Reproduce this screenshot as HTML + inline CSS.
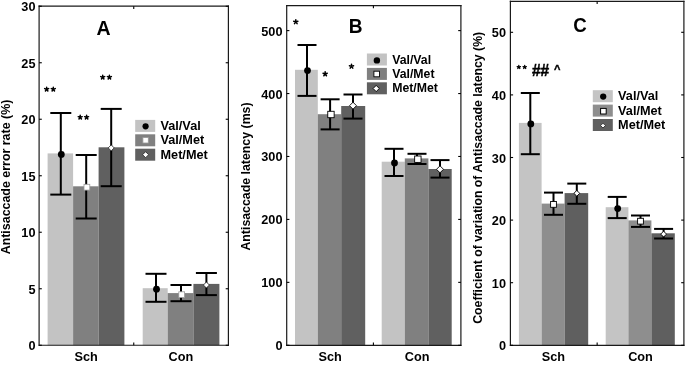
<!DOCTYPE html>
<html><head><meta charset="utf-8"><style>
html,body{margin:0;padding:0;background:#fff;width:685px;height:365px;overflow:hidden}
svg{display:block;will-change:transform}
text{font-family:"Liberation Sans", sans-serif;fill:#000}
</style></head><body>
<svg width="685" height="365" viewBox="0 0 685 365">
<rect width="685" height="365" fill="#fff"/>
<rect x="47.60" y="153.40" width="25.50" height="191.85" fill="#c3c3c3"/>
<rect x="73.10" y="186.30" width="25.50" height="158.95" fill="#808080"/>
<rect x="98.60" y="147.30" width="25.80" height="197.95" fill="#606060"/>
<rect x="142.70" y="288.20" width="25.00" height="57.05" fill="#c3c3c3"/>
<rect x="167.70" y="293.10" width="25.70" height="52.15" fill="#808080"/>
<rect x="193.40" y="283.90" width="26.00" height="61.35" fill="#606060"/>
<line x1="60.80" y1="113.00" x2="60.80" y2="194.60" stroke="#000" stroke-width="2"/>
<line x1="50.30" y1="113.00" x2="71.30" y2="113.00" stroke="#000" stroke-width="2"/>
<line x1="50.30" y1="194.60" x2="71.30" y2="194.60" stroke="#000" stroke-width="2"/>
<circle cx="61.30" cy="154.40" r="3.40" fill="#000"/>
<line x1="86.20" y1="155.00" x2="86.20" y2="218.50" stroke="#000" stroke-width="2"/>
<line x1="75.70" y1="155.00" x2="96.70" y2="155.00" stroke="#000" stroke-width="2"/>
<line x1="75.70" y1="218.50" x2="96.70" y2="218.50" stroke="#000" stroke-width="2"/>
<rect x="84.00" y="184.30" width="5.80" height="5.80" fill="#fff" stroke="#999" stroke-width="0.8"/>
<line x1="111.20" y1="108.90" x2="111.20" y2="186.20" stroke="#000" stroke-width="2"/>
<line x1="100.70" y1="108.90" x2="121.70" y2="108.90" stroke="#000" stroke-width="2"/>
<line x1="100.70" y1="186.20" x2="121.70" y2="186.20" stroke="#000" stroke-width="2"/>
<path d="M111.20 144.90L114.20 147.90L111.20 150.90L108.20 147.90Z" fill="#fff" stroke="#222" stroke-width="0.8"/>
<line x1="156.00" y1="273.80" x2="156.00" y2="301.80" stroke="#000" stroke-width="2"/>
<line x1="145.50" y1="273.80" x2="166.50" y2="273.80" stroke="#000" stroke-width="2"/>
<line x1="145.50" y1="301.80" x2="166.50" y2="301.80" stroke="#000" stroke-width="2"/>
<circle cx="156.50" cy="289.20" r="3.40" fill="#000"/>
<line x1="181.00" y1="285.00" x2="181.00" y2="301.20" stroke="#000" stroke-width="2"/>
<line x1="170.50" y1="285.00" x2="191.50" y2="285.00" stroke="#000" stroke-width="2"/>
<line x1="170.50" y1="301.20" x2="191.50" y2="301.20" stroke="#000" stroke-width="2"/>
<rect x="178.80" y="291.80" width="5.80" height="5.80" fill="#fff" stroke="#999" stroke-width="0.8"/>
<line x1="206.40" y1="273.00" x2="206.40" y2="295.10" stroke="#000" stroke-width="2"/>
<line x1="195.90" y1="273.00" x2="216.90" y2="273.00" stroke="#000" stroke-width="2"/>
<line x1="195.90" y1="295.10" x2="216.90" y2="295.10" stroke="#000" stroke-width="2"/>
<path d="M206.40 282.00L209.40 285.00L206.40 288.00L203.40 285.00Z" fill="#fff" stroke="#222" stroke-width="0.8"/>
<line x1="39.10" y1="5.60" x2="39.10" y2="345.85" stroke="#1a1a1a" stroke-width="1.2"/>
<line x1="228.40" y1="5.60" x2="228.40" y2="345.85" stroke="#1a1a1a" stroke-width="1.2"/>
<line x1="38.50" y1="6.20" x2="229.00" y2="6.20" stroke="#1a1a1a" stroke-width="1.2"/>
<line x1="38.50" y1="345.25" x2="229.00" y2="345.25" stroke="#1a1a1a" stroke-width="1.2"/>
<line x1="39.10" y1="345.25" x2="41.80" y2="345.25" stroke="#000" stroke-width="1.1"/>
<line x1="228.40" y1="345.25" x2="225.70" y2="345.25" stroke="#000" stroke-width="1.1"/>
<text x="0" y="0" transform="translate(35.50 350.25) scale(1.05 1.0)" font-size="12.1" font-weight="bold" text-anchor="end" >0</text>
<line x1="39.10" y1="288.75" x2="41.80" y2="288.75" stroke="#000" stroke-width="1.1"/>
<line x1="228.40" y1="288.75" x2="225.70" y2="288.75" stroke="#000" stroke-width="1.1"/>
<text x="0" y="0" transform="translate(35.50 293.75) scale(1.05 1.0)" font-size="12.1" font-weight="bold" text-anchor="end" >5</text>
<line x1="39.10" y1="232.25" x2="41.80" y2="232.25" stroke="#000" stroke-width="1.1"/>
<line x1="228.40" y1="232.25" x2="225.70" y2="232.25" stroke="#000" stroke-width="1.1"/>
<text x="0" y="0" transform="translate(35.50 237.25) scale(1.05 1.0)" font-size="12.1" font-weight="bold" text-anchor="end" >10</text>
<line x1="39.10" y1="175.75" x2="41.80" y2="175.75" stroke="#000" stroke-width="1.1"/>
<line x1="228.40" y1="175.75" x2="225.70" y2="175.75" stroke="#000" stroke-width="1.1"/>
<text x="0" y="0" transform="translate(35.50 180.75) scale(1.05 1.0)" font-size="12.1" font-weight="bold" text-anchor="end" >15</text>
<line x1="39.10" y1="119.25" x2="41.80" y2="119.25" stroke="#000" stroke-width="1.1"/>
<line x1="228.40" y1="119.25" x2="225.70" y2="119.25" stroke="#000" stroke-width="1.1"/>
<text x="0" y="0" transform="translate(35.50 124.25) scale(1.05 1.0)" font-size="12.1" font-weight="bold" text-anchor="end" >20</text>
<line x1="39.10" y1="62.75" x2="41.80" y2="62.75" stroke="#000" stroke-width="1.1"/>
<line x1="228.40" y1="62.75" x2="225.70" y2="62.75" stroke="#000" stroke-width="1.1"/>
<text x="0" y="0" transform="translate(35.50 67.75) scale(1.05 1.0)" font-size="12.1" font-weight="bold" text-anchor="end" >25</text>
<line x1="39.10" y1="6.25" x2="41.80" y2="6.25" stroke="#000" stroke-width="1.1"/>
<line x1="228.40" y1="6.25" x2="225.70" y2="6.25" stroke="#000" stroke-width="1.1"/>
<text x="0" y="0" transform="translate(35.50 11.25) scale(1.05 1.0)" font-size="12.1" font-weight="bold" text-anchor="end" >30</text>
<line x1="133.75" y1="6.20" x2="133.75" y2="8.90" stroke="#000" stroke-width="1.1"/>
<line x1="133.75" y1="345.25" x2="133.75" y2="342.55" stroke="#000" stroke-width="1.1"/>
<text x="0" y="0" transform="translate(86.10 360.50) scale(1.05 1.0)" font-size="12.1" font-weight="bold" text-anchor="middle" >Sch</text>
<text x="0" y="0" transform="translate(180.90 360.50) scale(1.05 1.0)" font-size="12.1" font-weight="bold" text-anchor="middle" >Con</text>
<text x="0" y="0" transform="translate(103.60 34.80) scale(0.975 1.0)" font-size="20" font-weight="bold" text-anchor="middle" >A</text>
<text x="10.00" y="177.00" font-size="12.43" font-weight="bold" text-anchor="middle" transform="rotate(-90 10.00 177.00)">Antisaccade error rate (%)</text>
<rect x="135.20" y="119.90" width="20.00" height="12.00" fill="#c3c3c3"/>
<circle cx="145.60" cy="126.30" r="3.10" fill="#000"/>
<text x="0" y="0" transform="translate(160.50 130.00) scale(1.05 1.0)" font-size="12.1" font-weight="bold" text-anchor="start" >Val/Val</text>
<rect x="135.20" y="134.30" width="20.00" height="12.00" fill="#808080"/>
<rect x="142.90" y="137.60" width="5.40" height="5.40" fill="#fff" stroke="#999" stroke-width="0.8"/>
<text x="0" y="0" transform="translate(160.50 144.40) scale(1.05 1.0)" font-size="12.1" font-weight="bold" text-anchor="start" >Val/Met</text>
<rect x="135.20" y="148.70" width="20.00" height="12.00" fill="#606060"/>
<path d="M145.60 151.70L148.60 154.70L145.60 157.70L142.60 154.70Z" fill="#fff" stroke="#222" stroke-width="0.8"/>
<text x="0" y="0" transform="translate(160.50 158.80) scale(1.05 1.0)" font-size="12.1" font-weight="bold" text-anchor="start" >Met/Met</text>
<path d="M46.65 89.25L46.65 87.15M46.65 89.25L44.65 88.60M46.65 89.25L45.42 90.95M46.65 89.25L47.88 90.95M46.65 89.25L48.65 88.60" stroke="#000" stroke-width="1.5" stroke-linecap="round" fill="none"/>
<path d="M53.30 89.25L53.30 87.15M53.30 89.25L51.30 88.60M53.30 89.25L52.07 90.95M53.30 89.25L54.53 90.95M53.30 89.25L55.30 88.60" stroke="#000" stroke-width="1.5" stroke-linecap="round" fill="none"/>
<path d="M80.20 117.30L80.20 115.20M80.20 117.30L78.20 116.65M80.20 117.30L78.97 119.00M80.20 117.30L81.43 119.00M80.20 117.30L82.20 116.65" stroke="#000" stroke-width="1.5" stroke-linecap="round" fill="none"/>
<path d="M86.60 117.30L86.60 115.20M86.60 117.30L84.60 116.65M86.60 117.30L85.37 119.00M86.60 117.30L87.83 119.00M86.60 117.30L88.60 116.65" stroke="#000" stroke-width="1.5" stroke-linecap="round" fill="none"/>
<path d="M102.70 77.25L102.70 75.15M102.70 77.25L100.70 76.60M102.70 77.25L101.47 78.95M102.70 77.25L103.93 78.95M102.70 77.25L104.70 76.60" stroke="#000" stroke-width="1.5" stroke-linecap="round" fill="none"/>
<path d="M109.40 77.25L109.40 75.15M109.40 77.25L107.40 76.60M109.40 77.25L108.17 78.95M109.40 77.25L110.63 78.95M109.40 77.25L111.40 76.60" stroke="#000" stroke-width="1.5" stroke-linecap="round" fill="none"/>
<rect x="295.00" y="69.80" width="22.80" height="275.50" fill="#c3c3c3"/>
<rect x="317.80" y="114.20" width="23.40" height="231.10" fill="#808080"/>
<rect x="341.20" y="106.00" width="24.00" height="239.30" fill="#606060"/>
<rect x="381.70" y="161.70" width="23.10" height="183.60" fill="#c3c3c3"/>
<rect x="404.80" y="158.40" width="23.60" height="186.90" fill="#808080"/>
<rect x="428.40" y="169.00" width="23.30" height="176.30" fill="#606060"/>
<line x1="307.00" y1="45.00" x2="307.00" y2="95.90" stroke="#000" stroke-width="2"/>
<line x1="297.50" y1="45.00" x2="316.50" y2="45.00" stroke="#000" stroke-width="2"/>
<line x1="297.50" y1="95.90" x2="316.50" y2="95.90" stroke="#000" stroke-width="2"/>
<circle cx="307.50" cy="70.60" r="3.40" fill="#000"/>
<line x1="330.10" y1="99.30" x2="330.10" y2="129.40" stroke="#000" stroke-width="2"/>
<line x1="320.60" y1="99.30" x2="339.60" y2="99.30" stroke="#000" stroke-width="2"/>
<line x1="320.60" y1="129.40" x2="339.60" y2="129.40" stroke="#000" stroke-width="2"/>
<rect x="327.75" y="111.30" width="6.40" height="6.40" fill="#fff" stroke="#000" stroke-width="0.9"/>
<line x1="353.00" y1="94.50" x2="353.00" y2="118.60" stroke="#000" stroke-width="2"/>
<line x1="343.50" y1="94.50" x2="362.50" y2="94.50" stroke="#000" stroke-width="2"/>
<line x1="343.50" y1="118.60" x2="362.50" y2="118.60" stroke="#000" stroke-width="2"/>
<path d="M353.00 102.20L356.50 105.70L353.00 109.20L349.50 105.70Z" fill="#fff" stroke="#000" stroke-width="0.9"/>
<line x1="394.00" y1="148.80" x2="394.00" y2="176.00" stroke="#000" stroke-width="2"/>
<line x1="384.50" y1="148.80" x2="403.50" y2="148.80" stroke="#000" stroke-width="2"/>
<line x1="384.50" y1="176.00" x2="403.50" y2="176.00" stroke="#000" stroke-width="2"/>
<circle cx="394.50" cy="163.00" r="3.40" fill="#000"/>
<line x1="417.00" y1="153.80" x2="417.00" y2="164.00" stroke="#000" stroke-width="2"/>
<line x1="407.50" y1="153.80" x2="426.50" y2="153.80" stroke="#000" stroke-width="2"/>
<line x1="407.50" y1="164.00" x2="426.50" y2="164.00" stroke="#000" stroke-width="2"/>
<rect x="414.65" y="156.00" width="6.40" height="6.40" fill="#fff" stroke="#000" stroke-width="0.9"/>
<line x1="440.00" y1="160.10" x2="440.00" y2="177.60" stroke="#000" stroke-width="2"/>
<line x1="430.50" y1="160.10" x2="449.50" y2="160.10" stroke="#000" stroke-width="2"/>
<line x1="430.50" y1="177.60" x2="449.50" y2="177.60" stroke="#000" stroke-width="2"/>
<path d="M440.00 165.80L443.50 169.30L440.00 172.80L436.50 169.30Z" fill="#fff" stroke="#000" stroke-width="0.9"/>
<line x1="286.70" y1="5.00" x2="286.70" y2="345.90" stroke="#1a1a1a" stroke-width="1.2"/>
<line x1="460.90" y1="5.00" x2="460.90" y2="345.90" stroke="#1a1a1a" stroke-width="1.2"/>
<line x1="286.10" y1="5.60" x2="461.50" y2="5.60" stroke="#1a1a1a" stroke-width="1.2"/>
<line x1="286.10" y1="345.30" x2="461.50" y2="345.30" stroke="#1a1a1a" stroke-width="1.2"/>
<line x1="286.70" y1="345.30" x2="289.40" y2="345.30" stroke="#000" stroke-width="1.1"/>
<line x1="460.90" y1="345.30" x2="458.20" y2="345.30" stroke="#000" stroke-width="1.1"/>
<text x="0" y="0" transform="translate(282.50 350.30) scale(1.05 1.0)" font-size="12.1" font-weight="bold" text-anchor="end" >0</text>
<line x1="286.70" y1="282.36" x2="289.40" y2="282.36" stroke="#000" stroke-width="1.1"/>
<line x1="460.90" y1="282.36" x2="458.20" y2="282.36" stroke="#000" stroke-width="1.1"/>
<text x="0" y="0" transform="translate(282.50 287.36) scale(1.05 1.0)" font-size="12.1" font-weight="bold" text-anchor="end" >100</text>
<line x1="286.70" y1="219.42" x2="289.40" y2="219.42" stroke="#000" stroke-width="1.1"/>
<line x1="460.90" y1="219.42" x2="458.20" y2="219.42" stroke="#000" stroke-width="1.1"/>
<text x="0" y="0" transform="translate(282.50 224.42) scale(1.05 1.0)" font-size="12.1" font-weight="bold" text-anchor="end" >200</text>
<line x1="286.70" y1="156.48" x2="289.40" y2="156.48" stroke="#000" stroke-width="1.1"/>
<line x1="460.90" y1="156.48" x2="458.20" y2="156.48" stroke="#000" stroke-width="1.1"/>
<text x="0" y="0" transform="translate(282.50 161.48) scale(1.05 1.0)" font-size="12.1" font-weight="bold" text-anchor="end" >300</text>
<line x1="286.70" y1="93.54" x2="289.40" y2="93.54" stroke="#000" stroke-width="1.1"/>
<line x1="460.90" y1="93.54" x2="458.20" y2="93.54" stroke="#000" stroke-width="1.1"/>
<text x="0" y="0" transform="translate(282.50 98.54) scale(1.05 1.0)" font-size="12.1" font-weight="bold" text-anchor="end" >400</text>
<line x1="286.70" y1="30.60" x2="289.40" y2="30.60" stroke="#000" stroke-width="1.1"/>
<line x1="460.90" y1="30.60" x2="458.20" y2="30.60" stroke="#000" stroke-width="1.1"/>
<text x="0" y="0" transform="translate(282.50 35.60) scale(1.05 1.0)" font-size="12.1" font-weight="bold" text-anchor="end" >500</text>
<line x1="373.40" y1="5.60" x2="373.40" y2="8.30" stroke="#000" stroke-width="1.1"/>
<line x1="373.40" y1="345.30" x2="373.40" y2="342.60" stroke="#000" stroke-width="1.1"/>
<text x="0" y="0" transform="translate(330.20 360.50) scale(1.05 1.0)" font-size="12.1" font-weight="bold" text-anchor="middle" >Sch</text>
<text x="0" y="0" transform="translate(417.20 360.50) scale(1.05 1.0)" font-size="12.1" font-weight="bold" text-anchor="middle" >Con</text>
<text x="0" y="0" transform="translate(355.55 32.70) scale(0.955 1.0)" font-size="20" font-weight="bold" text-anchor="middle" >B</text>
<text x="249.60" y="176.50" font-size="12.35" font-weight="bold" text-anchor="middle" transform="rotate(-90 249.60 176.50)">Antisaccade latency (ms)</text>
<rect x="366.90" y="53.50" width="20.00" height="12.00" fill="#c3c3c3"/>
<circle cx="376.90" cy="60.40" r="3.20" fill="#000"/>
<text x="0" y="0" transform="translate(392.20 63.60) scale(1.015 1.0)" font-size="12.1" font-weight="bold" text-anchor="start" >Val/Val</text>
<rect x="366.90" y="67.90" width="20.00" height="12.00" fill="#808080"/>
<rect x="373.90" y="71.20" width="5.60" height="5.60" fill="#fff" stroke="#000" stroke-width="0.9"/>
<text x="0" y="0" transform="translate(392.20 78.00) scale(1.015 1.0)" font-size="12.1" font-weight="bold" text-anchor="start" >Val/Met</text>
<rect x="366.90" y="82.30" width="20.00" height="12.00" fill="#606060"/>
<path d="M376.20 85.40L379.30 88.50L376.20 91.60L373.10 88.50Z" fill="#fff" stroke="#000" stroke-width="0.9"/>
<text x="0" y="0" transform="translate(392.20 92.40) scale(1.015 1.0)" font-size="12.1" font-weight="bold" text-anchor="start" >Met/Met</text>
<path d="M295.80 21.90L295.80 19.70M295.80 21.90L293.71 21.22M295.80 21.90L294.51 23.68M295.80 21.90L297.09 23.68M295.80 21.90L297.89 21.22" stroke="#000" stroke-width="1.5" stroke-linecap="round" fill="none"/>
<path d="M325.15 74.00L325.15 71.80M325.15 74.00L323.06 73.32M325.15 74.00L323.86 75.78M325.15 74.00L326.44 75.78M325.15 74.00L327.24 73.32" stroke="#000" stroke-width="1.5" stroke-linecap="round" fill="none"/>
<path d="M351.50 66.40L351.50 64.20M351.50 66.40L349.41 65.72M351.50 66.40L350.21 68.18M351.50 66.40L352.79 68.18M351.50 66.40L353.59 65.72" stroke="#000" stroke-width="1.5" stroke-linecap="round" fill="none"/>
<rect x="518.90" y="122.90" width="22.70" height="222.40" fill="#c4c4c4"/>
<rect x="541.60" y="203.60" width="23.00" height="141.70" fill="#8e8e8e"/>
<rect x="564.60" y="193.10" width="23.60" height="152.20" fill="#5f5f5f"/>
<rect x="605.70" y="207.20" width="22.70" height="138.10" fill="#c4c4c4"/>
<rect x="628.40" y="220.40" width="23.00" height="124.90" fill="#8e8e8e"/>
<rect x="651.40" y="233.30" width="23.40" height="112.00" fill="#5f5f5f"/>
<line x1="530.30" y1="93.00" x2="530.30" y2="154.20" stroke="#000" stroke-width="2"/>
<line x1="520.80" y1="93.00" x2="539.80" y2="93.00" stroke="#000" stroke-width="2"/>
<line x1="520.80" y1="154.20" x2="539.80" y2="154.20" stroke="#000" stroke-width="2"/>
<circle cx="530.80" cy="123.90" r="3.40" fill="#000"/>
<line x1="553.50" y1="192.60" x2="553.50" y2="214.80" stroke="#000" stroke-width="2"/>
<line x1="544.00" y1="192.60" x2="563.00" y2="192.60" stroke="#000" stroke-width="2"/>
<line x1="544.00" y1="214.80" x2="563.00" y2="214.80" stroke="#000" stroke-width="2"/>
<rect x="550.60" y="201.50" width="5.80" height="5.80" fill="#fff" stroke="#000" stroke-width="0.9"/>
<line x1="576.80" y1="183.60" x2="576.80" y2="203.80" stroke="#000" stroke-width="2"/>
<line x1="567.30" y1="183.60" x2="586.30" y2="183.60" stroke="#000" stroke-width="2"/>
<line x1="567.30" y1="203.80" x2="586.30" y2="203.80" stroke="#000" stroke-width="2"/>
<path d="M576.80 190.40L579.70 193.30L576.80 196.20L573.90 193.30Z" fill="#fff" stroke="#000" stroke-width="0.9"/>
<line x1="617.20" y1="196.90" x2="617.20" y2="218.10" stroke="#000" stroke-width="2"/>
<line x1="607.70" y1="196.90" x2="626.70" y2="196.90" stroke="#000" stroke-width="2"/>
<line x1="607.70" y1="218.10" x2="626.70" y2="218.10" stroke="#000" stroke-width="2"/>
<circle cx="617.70" cy="208.60" r="3.40" fill="#000"/>
<line x1="640.50" y1="215.50" x2="640.50" y2="226.90" stroke="#000" stroke-width="2"/>
<line x1="631.00" y1="215.50" x2="650.00" y2="215.50" stroke="#000" stroke-width="2"/>
<line x1="631.00" y1="226.90" x2="650.00" y2="226.90" stroke="#000" stroke-width="2"/>
<rect x="637.60" y="218.30" width="5.80" height="5.80" fill="#fff" stroke="#000" stroke-width="0.9"/>
<line x1="663.60" y1="228.90" x2="663.60" y2="238.50" stroke="#000" stroke-width="2"/>
<line x1="654.10" y1="228.90" x2="673.10" y2="228.90" stroke="#000" stroke-width="2"/>
<line x1="654.10" y1="238.50" x2="673.10" y2="238.50" stroke="#000" stroke-width="2"/>
<path d="M663.60 231.20L666.50 234.10L663.60 237.00L660.70 234.10Z" fill="#fff" stroke="#000" stroke-width="0.9"/>
<line x1="510.40" y1="0.70" x2="510.40" y2="345.90" stroke="#1a1a1a" stroke-width="1.2"/>
<line x1="683.90" y1="0.70" x2="683.90" y2="345.90" stroke="#1a1a1a" stroke-width="1.2"/>
<line x1="509.80" y1="1.30" x2="684.50" y2="1.30" stroke="#1a1a1a" stroke-width="1.2"/>
<line x1="509.80" y1="345.30" x2="684.50" y2="345.30" stroke="#1a1a1a" stroke-width="1.2"/>
<line x1="510.40" y1="345.30" x2="513.10" y2="345.30" stroke="#000" stroke-width="1.1"/>
<line x1="683.90" y1="345.30" x2="681.20" y2="345.30" stroke="#000" stroke-width="1.1"/>
<text x="0" y="0" transform="translate(506.00 350.30) scale(1.05 1.0)" font-size="12.1" font-weight="bold" text-anchor="end" >0</text>
<line x1="510.40" y1="282.70" x2="513.10" y2="282.70" stroke="#000" stroke-width="1.1"/>
<line x1="683.90" y1="282.70" x2="681.20" y2="282.70" stroke="#000" stroke-width="1.1"/>
<text x="0" y="0" transform="translate(506.00 287.70) scale(1.05 1.0)" font-size="12.1" font-weight="bold" text-anchor="end" >10</text>
<line x1="510.40" y1="220.10" x2="513.10" y2="220.10" stroke="#000" stroke-width="1.1"/>
<line x1="683.90" y1="220.10" x2="681.20" y2="220.10" stroke="#000" stroke-width="1.1"/>
<text x="0" y="0" transform="translate(506.00 225.10) scale(1.05 1.0)" font-size="12.1" font-weight="bold" text-anchor="end" >20</text>
<line x1="510.40" y1="157.50" x2="513.10" y2="157.50" stroke="#000" stroke-width="1.1"/>
<line x1="683.90" y1="157.50" x2="681.20" y2="157.50" stroke="#000" stroke-width="1.1"/>
<text x="0" y="0" transform="translate(506.00 162.50) scale(1.05 1.0)" font-size="12.1" font-weight="bold" text-anchor="end" >30</text>
<line x1="510.40" y1="94.90" x2="513.10" y2="94.90" stroke="#000" stroke-width="1.1"/>
<line x1="683.90" y1="94.90" x2="681.20" y2="94.90" stroke="#000" stroke-width="1.1"/>
<text x="0" y="0" transform="translate(506.00 99.90) scale(1.05 1.0)" font-size="12.1" font-weight="bold" text-anchor="end" >40</text>
<line x1="510.40" y1="32.30" x2="513.10" y2="32.30" stroke="#000" stroke-width="1.1"/>
<line x1="683.90" y1="32.30" x2="681.20" y2="32.30" stroke="#000" stroke-width="1.1"/>
<text x="0" y="0" transform="translate(506.00 37.30) scale(1.05 1.0)" font-size="12.1" font-weight="bold" text-anchor="end" >50</text>
<line x1="597.15" y1="1.30" x2="597.15" y2="4.00" stroke="#000" stroke-width="1.1"/>
<line x1="597.15" y1="345.30" x2="597.15" y2="342.60" stroke="#000" stroke-width="1.1"/>
<text x="0" y="0" transform="translate(553.40 360.50) scale(1.05 1.0)" font-size="12.1" font-weight="bold" text-anchor="middle" >Sch</text>
<text x="0" y="0" transform="translate(640.50 360.50) scale(1.05 1.0)" font-size="12.1" font-weight="bold" text-anchor="middle" >Con</text>
<text x="0" y="0" transform="translate(580.10 32.10) scale(0.935 1.0)" font-size="20" font-weight="bold" text-anchor="middle" >C</text>
<text x="482.00" y="177.80" font-size="12.3" font-weight="bold" text-anchor="middle" transform="rotate(-90 482.00 177.80)">Coefficient of variation of Antisaccade latency (%)</text>
<rect x="592.80" y="90.20" width="20.00" height="12.00" fill="#c4c4c4"/>
<circle cx="603.20" cy="96.60" r="3.15" fill="#000"/>
<text x="0" y="0" transform="translate(618.10 100.30) scale(1.05 1.0)" font-size="12.1" font-weight="bold" text-anchor="start" >Val/Val</text>
<rect x="592.80" y="104.60" width="20.00" height="12.00" fill="#8e8e8e"/>
<rect x="600.60" y="108.40" width="5.60" height="5.60" fill="#fff" stroke="#000" stroke-width="1"/>
<text x="0" y="0" transform="translate(618.10 114.70) scale(1.05 1.0)" font-size="12.1" font-weight="bold" text-anchor="start" >Val/Met</text>
<rect x="592.80" y="119.00" width="20.00" height="12.00" fill="#5f5f5f"/>
<path d="M603.00 123.20L605.40 125.60L603.00 128.00L600.60 125.60Z" fill="#fff" stroke="#222" stroke-width="0.8"/>
<text x="0" y="0" transform="translate(618.10 129.10) scale(1.05 1.0)" font-size="12.1" font-weight="bold" text-anchor="start" >Met/Met</text>
<text x="0.00" y="0.00" font-size="15.5" font-weight="bold" transform="translate(531.9 75.5) scale(1 1.04)" stroke="#000" stroke-width="0.45" text-anchor="start" >##</text>
<text x="553.90" y="73.20" font-size="11" font-weight="bold" stroke="#000" stroke-width="0.4" text-anchor="start" >^</text>
<path d="M518.80 67.10L518.80 65.40M518.80 67.10L517.18 66.57M518.80 67.10L517.80 68.48M518.80 67.10L519.80 68.48M518.80 67.10L520.42 66.57" stroke="#000" stroke-width="1.3" stroke-linecap="round" fill="none"/>
<path d="M524.70 67.10L524.70 65.40M524.70 67.10L523.08 66.57M524.70 67.10L523.70 68.48M524.70 67.10L525.70 68.48M524.70 67.10L526.32 66.57" stroke="#000" stroke-width="1.3" stroke-linecap="round" fill="none"/>
</svg></body></html>
